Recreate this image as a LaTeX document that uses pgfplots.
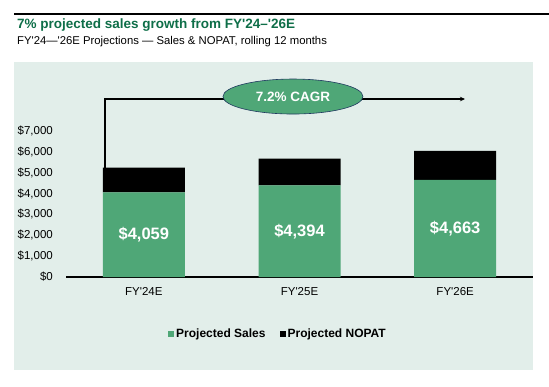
\documentclass[border=0pt]{standalone}
\usepackage{fontspec}
\setmainfont{Liberation Sans}
\usepackage{pgfplots}
\pgfplotsset{compat=1.18}
\usetikzlibrary{arrows.meta}
\definecolor{barg}{HTML}{4FA777}
\definecolor{bgp}{HTML}{E2EEEA}
\definecolor{titleg}{HTML}{0E6E48}
\definecolor{navy}{HTML}{1F3A5F}
\begin{document}
\begin{tikzpicture}
\path[use as bounding box] (0pt,0pt) rectangle (549pt,386pt);
\fill[bgp] (14pt,16pt) rectangle (533pt,324pt);
\draw[line width=2pt] (14pt,372.3pt) -- (549pt,372.3pt);
\node[anchor=base west, inner sep=0pt, text=titleg, font=\fontsize{13.5}{16}\selectfont\bfseries] at (17pt,357pt) {7\% projected sales growth from FY\textquotesingle24–\textquotesingle26E};
\node[anchor=base west, inner sep=0pt, font=\fontsize{11.3}{13}\selectfont] at (17pt,341pt) {FY\textquotesingle24—\textquotesingle26E Projections — Sales \& NOPAT, rolling 12 months};
\begin{axis}[
  at={(66pt,109pt)}, anchor=south west,
  scale only axis, width=467pt, height=187.7pt,
  xmin=-0.5, xmax=2.5, ymin=0, ymax=9000,
  ybar stacked, bar width=82pt, clip=false,
  axis x line*=bottom, axis y line*=left,
  y axis line style={draw=none},
  x axis line style={line width=1.1pt},
  major tick length=0pt,
  xtick={0,1,2},
  xticklabels={FY\textquotesingle24E,FY\textquotesingle25E,FY\textquotesingle26E},
  ytick={0,1000,2000,3000,4000,5000,6000,7000},
  yticklabels={{\$0},{\$1,000},{\$2,000},{\$3,000},{\$4,000},{\$5,000},{\$6,000},{\$7,000}},
  yticklabel style={inner sep=0pt, anchor=east, xshift=-13pt, font=\fontsize{11.5}{13}\selectfont},
  xticklabel style={inner sep=0pt, anchor=north, yshift=-10.5pt, font=\fontsize{11.5}{13}\selectfont},
  legend columns=2,
  legend image code/.code={\fill[#1] (0pt,-3pt) rectangle (6pt,3pt);},
  legend style={at={(0.454,-0.3037)}, anchor=center, draw=none, fill=none,
    font=\fontsize{12}{13}\selectfont\bfseries,
    /tikz/every even column/.append style={column sep=12pt}},
]
\addplot[fill=barg, draw=none] coordinates {(0,4059) (1,4394) (2,4663)};
\addlegendentry{Projected Sales}
\addplot[fill=black, draw=none] coordinates {(0,1180) (1,1280) (2,1387)};
\addlegendentry{Projected NOPAT}
\coordinate (b1) at (axis cs:-0.25,5239);
\coordinate (a1) at (axis cs:2.063,8534);
\coordinate (ec) at (axis cs:0.958,8654);
\coordinate (l1) at (axis cs:0,2030);
\coordinate (l2) at (axis cs:1,2197);
\coordinate (l3) at (axis cs:2,2331);
\end{axis}
\draw[line width=1.5pt, -{Stealth[length=5pt,width=4.5pt]}] (b1) |- (a1);
\filldraw[fill=barg, draw=navy, line width=0.6pt] (ec) ellipse [x radius=70pt, y radius=17.5pt];
\node[text=white, font=\fontsize{13.5}{15}\selectfont\bfseries] at (ec) {7.2\% CAGR};
\node[text=white, font=\fontsize{16.5}{18}\selectfont\bfseries] at (l1) {\$4,059};
\node[text=white, font=\fontsize{16.5}{18}\selectfont\bfseries] at (l2) {\$4,394};
\node[text=white, font=\fontsize{16.5}{18}\selectfont\bfseries] at (l3) {\$4,663};
\end{tikzpicture}
\end{document}
